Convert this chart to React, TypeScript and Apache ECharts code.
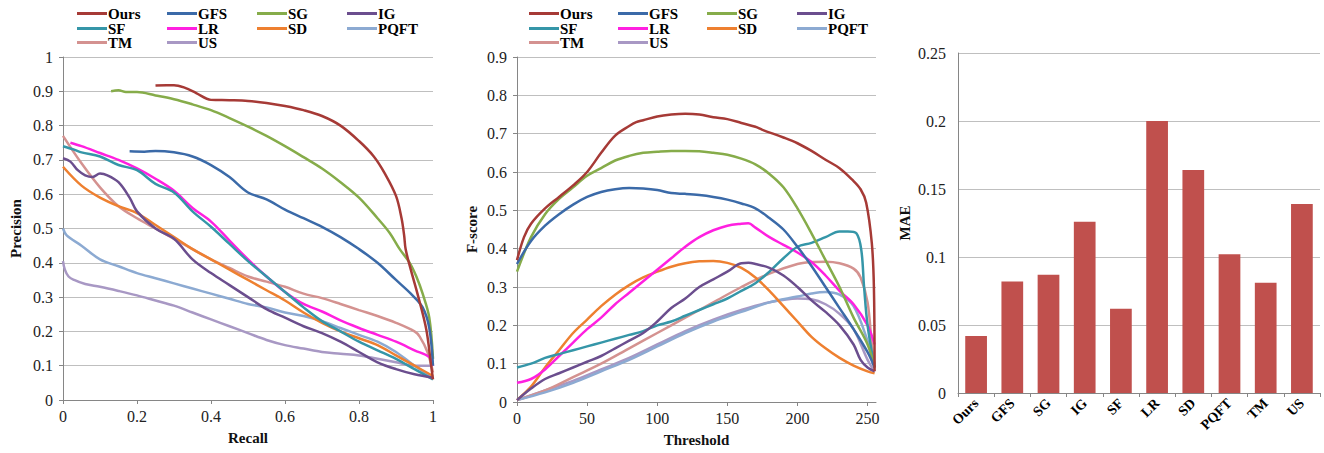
import React, { useEffect, useRef } from "react";
import * as echarts from "echarts";

const methods = ["Ours", "GFS", "SG", "IG", "SF", "LR", "SD", "PQFT", "TM", "US"];
const colors = ["#A63A36", "#3B6AA8", "#86AC4A", "#6B4E8E", "#3596A8", "#FF20E0", "#EE8030", "#8CAAD2", "#D49290", "#A898C4"];

// Precision-Recall curves: [recall, precision]
const prOurs = [[0.25,0.917],[0.28,0.918],[0.3,0.918],[0.33,0.91],[0.36,0.895],[0.4,0.875],[0.45,0.874],[0.5,0.872],[0.55,0.866],[0.6,0.857],[0.65,0.845],[0.7,0.828],[0.75,0.8],[0.8,0.755],[0.84,0.71],[0.87,0.66],[0.9,0.595],[0.915,0.53],[0.922,0.48],[0.926,0.44],[0.94,0.38],[0.958,0.31],[0.982,0.205],[0.995,0.1],[1.0,0.06]];
const prGFS = [[0.18,0.725],[0.22,0.724],[0.25,0.726],[0.3,0.722],[0.35,0.71],[0.4,0.685],[0.45,0.65],[0.5,0.605],[0.55,0.585],[0.6,0.555],[0.65,0.53],[0.7,0.505],[0.75,0.475],[0.8,0.44],[0.85,0.4],[0.9,0.35],[0.94,0.31],[0.972,0.27],[0.99,0.21],[1.0,0.1]];
const prSG = [[0.13,0.9],[0.15,0.903],[0.17,0.898],[0.2,0.898],[0.25,0.888],[0.3,0.877],[0.35,0.862],[0.4,0.845],[0.45,0.822],[0.5,0.797],[0.55,0.77],[0.6,0.74],[0.65,0.708],[0.7,0.675],[0.75,0.635],[0.8,0.59],[0.85,0.53],[0.883,0.487],[0.91,0.44],[0.937,0.4],[0.955,0.36],[0.972,0.31],[0.99,0.24],[1.0,0.12]];
const prIG = [[0,0.705],[0.02,0.695],[0.04,0.67],[0.06,0.655],[0.08,0.65],[0.1,0.66],[0.12,0.655],[0.15,0.635],[0.18,0.59],[0.2,0.55],[0.25,0.5],[0.3,0.47],[0.35,0.41],[0.4,0.37],[0.45,0.335],[0.5,0.3],[0.55,0.265],[0.6,0.24],[0.65,0.215],[0.7,0.195],[0.75,0.17],[0.8,0.14],[0.85,0.11],[0.9,0.09],[0.95,0.075],[1.0,0.065]];
const prSF = [[0,0.74],[0.03,0.73],[0.05,0.722],[0.1,0.71],[0.15,0.685],[0.2,0.67],[0.25,0.63],[0.3,0.605],[0.35,0.55],[0.4,0.505],[0.45,0.455],[0.5,0.405],[0.55,0.36],[0.6,0.315],[0.65,0.27],[0.7,0.23],[0.75,0.2],[0.8,0.17],[0.85,0.145],[0.9,0.12],[0.95,0.09],[1.0,0.06]];
const prLR = [[0.02,0.75],[0.05,0.74],[0.1,0.72],[0.15,0.7],[0.2,0.675],[0.25,0.645],[0.3,0.61],[0.35,0.56],[0.4,0.52],[0.45,0.465],[0.5,0.41],[0.55,0.36],[0.6,0.315],[0.65,0.28],[0.7,0.258],[0.75,0.232],[0.8,0.21],[0.85,0.19],[0.9,0.17],[0.95,0.145],[0.99,0.125],[1.0,0.1]];
const prSD = [[0,0.68],[0.05,0.625],[0.1,0.59],[0.15,0.565],[0.2,0.545],[0.25,0.51],[0.3,0.475],[0.35,0.44],[0.4,0.41],[0.45,0.38],[0.5,0.35],[0.55,0.32],[0.6,0.29],[0.65,0.255],[0.7,0.225],[0.75,0.2],[0.8,0.18],[0.85,0.16],[0.9,0.13],[0.95,0.1],[1.0,0.07]];
const prPQFT = [[0,0.5],[0.01,0.48],[0.05,0.45],[0.1,0.41],[0.15,0.39],[0.2,0.37],[0.25,0.355],[0.3,0.34],[0.35,0.325],[0.4,0.31],[0.45,0.295],[0.5,0.28],[0.55,0.27],[0.6,0.255],[0.65,0.245],[0.7,0.23],[0.75,0.21],[0.8,0.19],[0.85,0.17],[0.9,0.14],[0.95,0.1],[1.0,0.065]];
const prTM = [[0,0.77],[0.05,0.69],[0.1,0.62],[0.15,0.565],[0.2,0.53],[0.25,0.5],[0.3,0.47],[0.35,0.44],[0.4,0.41],[0.45,0.385],[0.5,0.36],[0.55,0.345],[0.6,0.33],[0.65,0.31],[0.7,0.297],[0.75,0.28],[0.8,0.262],[0.85,0.245],[0.9,0.225],[0.95,0.2],[0.964,0.185],[0.985,0.14],[1.0,0.08]];
const prUS = [[0,0.405],[0.005,0.38],[0.015,0.36],[0.03,0.35],[0.06,0.338],[0.1,0.33],[0.15,0.318],[0.2,0.305],[0.25,0.29],[0.3,0.275],[0.35,0.255],[0.4,0.235],[0.45,0.215],[0.5,0.195],[0.55,0.175],[0.6,0.16],[0.65,0.15],[0.7,0.14],[0.75,0.135],[0.8,0.13],[0.85,0.12],[0.9,0.11],[0.95,0.1],[1.0,0.1]];

// F-score vs threshold: [threshold, F-score]
const fOurs = [[0,0.37],[5,0.43],[10,0.465],[20,0.505],[30,0.535],[40,0.565],[50,0.6],[60,0.65],[70,0.695],[80,0.72],[85,0.73],[90,0.735],[100,0.745],[110,0.75],[120,0.752],[130,0.75],[140,0.743],[150,0.738],[160,0.728],[170,0.718],[175,0.71],[190,0.69],[200,0.675],[210,0.655],[220,0.632],[230,0.61],[239,0.58],[245,0.555],[249,0.52],[253,0.415],[254.5,0.3],[255,0.08]];
const fGFS = [[0,0.36],[10,0.42],[20,0.46],[30,0.49],[40,0.515],[50,0.535],[60,0.548],[70,0.555],[80,0.558],[90,0.557],[100,0.553],[110,0.545],[120,0.543],[130,0.54],[140,0.535],[150,0.528],[160,0.518],[170,0.505],[180,0.48],[190,0.45],[200,0.405],[210,0.355],[220,0.3],[230,0.245],[240,0.19],[250,0.13],[255,0.09]];
const fSG = [[0,0.34],[10,0.43],[20,0.49],[30,0.53],[40,0.56],[50,0.59],[60,0.61],[70,0.63],[80,0.642],[90,0.65],[100,0.653],[110,0.655],[120,0.655],[130,0.654],[140,0.65],[150,0.645],[160,0.635],[170,0.62],[180,0.595],[190,0.56],[200,0.505],[210,0.44],[220,0.37],[230,0.3],[240,0.22],[250,0.15],[255,0.09]];
const fIG = [[0,0.005],[10,0.035],[20,0.06],[30,0.075],[40,0.09],[50,0.105],[60,0.12],[70,0.14],[80,0.16],[90,0.18],[100,0.21],[110,0.245],[120,0.27],[130,0.3],[140,0.32],[150,0.34],[160,0.362],[165,0.363],[170,0.36],[180,0.35],[190,0.33],[200,0.3],[210,0.265],[220,0.235],[230,0.2],[240,0.15],[245,0.11],[250,0.09],[255,0.08]];
const fSF = [[0,0.09],[10,0.1],[20,0.115],[30,0.125],[40,0.135],[50,0.145],[60,0.155],[70,0.165],[80,0.175],[90,0.185],[100,0.2],[110,0.21],[120,0.225],[130,0.24],[140,0.255],[150,0.27],[160,0.29],[170,0.31],[180,0.34],[190,0.375],[200,0.405],[210,0.415],[220,0.43],[230,0.445],[236,0.445],[242,0.44],[245.5,0.397],[247.5,0.3],[250,0.2],[255,0.09]];
const fLR = [[0,0.05],[10,0.06],[20,0.085],[30,0.12],[40,0.155],[50,0.19],[60,0.22],[70,0.255],[80,0.285],[90,0.315],[100,0.345],[110,0.375],[120,0.405],[130,0.43],[140,0.448],[150,0.46],[160,0.465],[165,0.466],[170,0.455],[180,0.43],[190,0.41],[200,0.39],[210,0.365],[220,0.33],[230,0.29],[240,0.255],[250,0.2],[255,0.15]];
const fSD = [[0,0.005],[10,0.04],[20,0.09],[30,0.135],[40,0.18],[50,0.215],[60,0.25],[70,0.28],[80,0.305],[90,0.325],[100,0.34],[110,0.353],[120,0.362],[130,0.367],[140,0.368],[150,0.363],[160,0.35],[170,0.325],[180,0.29],[190,0.25],[200,0.21],[210,0.17],[220,0.14],[230,0.115],[240,0.095],[250,0.08],[255,0.075]];
const fPQFT = [[0,0.005],[20,0.025],[40,0.05],[60,0.08],[80,0.11],[100,0.145],[120,0.18],[140,0.21],[160,0.235],[180,0.26],[200,0.275],[210,0.283],[220,0.287],[230,0.28],[240,0.25],[250,0.16],[255,0.1]];
const fTM = [[0,0.005],[20,0.03],[40,0.065],[60,0.1],[80,0.14],[100,0.18],[120,0.22],[140,0.26],[160,0.3],[180,0.335],[200,0.36],[210,0.365],[220,0.366],[230,0.362],[240,0.348],[245,0.325],[250,0.26],[253,0.15],[255,0.09]];
const fUS = [[0,0.005],[20,0.03],[40,0.055],[60,0.085],[80,0.115],[100,0.15],[120,0.185],[140,0.215],[160,0.24],[180,0.26],[200,0.27],[210,0.268],[220,0.255],[230,0.23],[240,0.19],[250,0.11],[255,0.08]];

// MAE bars
const maeValues = [0.042, 0.082, 0.087, 0.126, 0.062, 0.2, 0.164, 0.102, 0.081, 0.139];

const prData = [prOurs, prGFS, prSG, prIG, prSF, prLR, prSD, prPQFT, prTM, prUS];
const fData = [fOurs, fGFS, fSG, fIG, fSF, fLR, fSD, fPQFT, fTM, fUS];

const FONT = '"Liberation Serif", "Times New Roman", serif';

export default function App() {
  const ref = useRef<HTMLDivElement>(null);
  useEffect(() => {
    if (!ref.current) return;
    const chart = echarts.init(ref.current, null, { renderer: "svg" });
    const axisLine = { lineStyle: { color: "#868686", width: 1 } };
    const splitLine = { lineStyle: { color: "#BFBFBF", width: 1 } };
    const tickLabel = { fontFamily: FONT, fontSize: 16, color: "#222" };
    const nameStyle = { fontFamily: FONT, fontSize: 15, fontWeight: "bold", color: "#111" };

    const legends: any[] = [];
    const colX1 = [77, 167, 257, 347];
    const colX2 = [529, 618, 707, 797];
    const rowY = [6, 21, 35];
    methods.forEach((m, i) => {
      const r = Math.floor(i / 4);
      const c = i % 4;
      [colX1, colX2].forEach((cols) => {
        legends.push({
          data: [m],
          left: cols[c],
          top: rowY[r],
          padding: 0,
          icon: "rect",
          itemWidth: 30,
          itemHeight: 3,
          selectedMode: false,
          textStyle: { fontFamily: FONT, fontSize: 15, fontWeight: "bold", color: "#000", padding: [0, 0, 0, -4] },
        });
      });
    });

    const series: any[] = [];
    methods.forEach((m, i) => {
      series.push({
        name: m,
        type: "line",
        xAxisIndex: 0,
        yAxisIndex: 0,
        data: prData[i],
        showSymbol: false,
        symbol: "none",
        smooth: 0.35,
        lineStyle: { width: 2.5, color: colors[i] },
        itemStyle: { color: colors[i] },
        z: 20 - i,
      });
    });
    methods.forEach((m, i) => {
      series.push({
        name: m,
        type: "line",
        xAxisIndex: 1,
        yAxisIndex: 1,
        data: fData[i],
        showSymbol: false,
        symbol: "none",
        smooth: 0.35,
        lineStyle: { width: 2.5, color: colors[i] },
        itemStyle: { color: colors[i] },
        z: 20 - i,
      });
    });
    series.push({
      name: "MAE",
      type: "bar",
      xAxisIndex: 2,
      yAxisIndex: 2,
      data: maeValues,
      barWidth: "60%",
      itemStyle: { color: "#C0504D" },
    });

    chart.setOption({
      animation: false,
      color: colors,
      legend: legends,
      grid: [
        { left: 63, top: 57, width: 370, height: 343 },
        { left: 517, top: 57, width: 359, height: 345 },
        { left: 958, top: 53, width: 362, height: 340 },
      ],
      xAxis: [
        {
          type: "value", gridIndex: 0, min: 0, max: 1, interval: 0.2,
          name: "Recall", nameLocation: "middle", nameGap: 30, nameTextStyle: nameStyle,
          axisLine, axisTick: { show: true, length: 4, lineStyle: { color: "#868686" } },
          axisLabel: { ...tickLabel, margin: 8 }, splitLine: { show: false },
        },
        {
          type: "value", gridIndex: 1, min: 0, max: 256, interval: 50,
          name: "Threshold", nameLocation: "middle", nameGap: 30, nameTextStyle: nameStyle,
          axisLine, axisTick: { show: true, length: 4, lineStyle: { color: "#868686" } },
          axisLabel: { ...tickLabel, margin: 8, showMaxLabel: false }, splitLine: { show: false },
        },
        {
          type: "category", gridIndex: 2, data: methods,
          axisLine, axisTick: { show: true, length: 4, lineStyle: { color: "#868686" } },
          axisLabel: { fontFamily: FONT, fontSize: 14, fontWeight: "bold", color: "#000", rotate: 45, margin: 8, interval: 0 },
        },
      ],
      yAxis: [
        {
          type: "value", gridIndex: 0, min: 0, max: 1, interval: 0.1,
          name: "Precision", nameLocation: "middle", nameGap: 40, nameTextStyle: nameStyle,
          axisLine: { show: true, ...axisLine }, axisTick: { show: true, length: 4, lineStyle: { color: "#868686" } },
          axisLabel: { ...tickLabel, margin: 10 }, splitLine,
        },
        {
          type: "value", gridIndex: 1, min: 0, max: 0.9, interval: 0.1,
          name: "F-score", nameLocation: "middle", nameGap: 38, nameTextStyle: nameStyle,
          axisLine: { show: true, ...axisLine }, axisTick: { show: true, length: 4, lineStyle: { color: "#868686" } },
          axisLabel: { ...tickLabel, margin: 10 }, splitLine,
        },
        {
          type: "value", gridIndex: 2, min: 0, max: 0.25, interval: 0.05,
          name: "MAE", nameLocation: "middle", nameGap: 46, nameTextStyle: nameStyle,
          axisLine: { show: true, ...axisLine }, axisTick: { show: false },
          axisLabel: { ...tickLabel, margin: 12 }, splitLine,
        },
      ],
      series,
    });
    return () => chart.dispose();
  }, []);
  return <div ref={ref} style={{ position: "absolute", left: 0, top: 0, width: 1324, height: 453, background: "#fff" }} />;
}
